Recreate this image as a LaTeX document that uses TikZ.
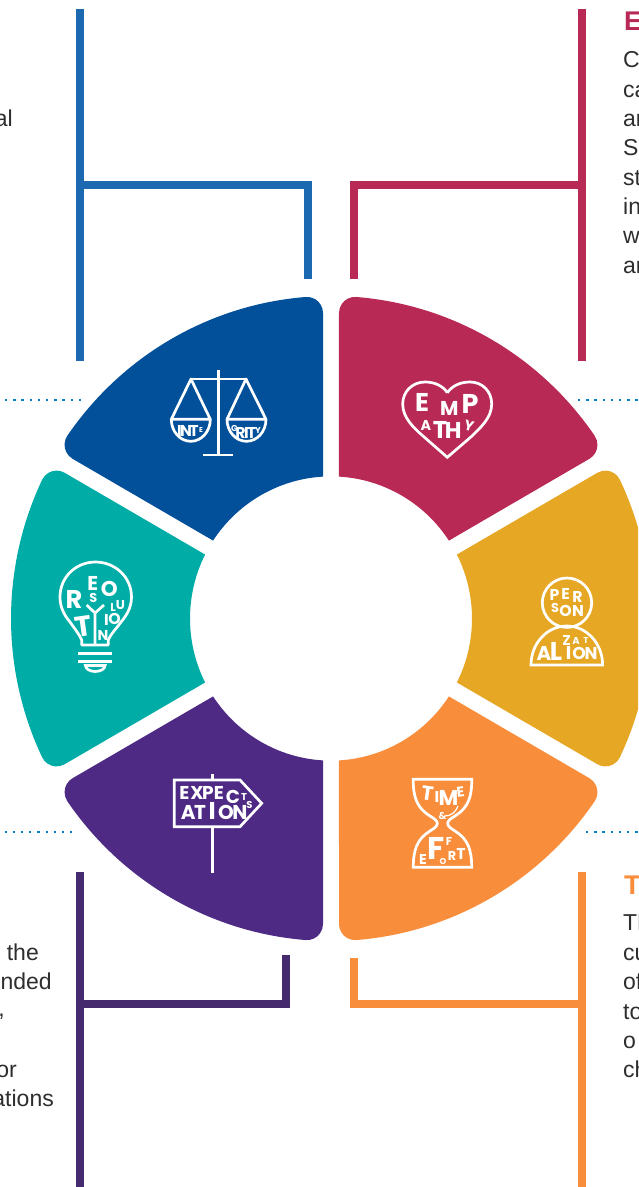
\documentclass[tikz,border=0pt]{standalone}
\usepackage{fontspec}
\setmainfont{Liberation Sans}
\newfontfamily\glyphfont{Poppins}
\definecolor{secBlue}{HTML}{03509A}
\definecolor{secRed}{HTML}{B92955}
\definecolor{secGold}{HTML}{E5A724}
\definecolor{secOrange}{HTML}{F88D3B}
\definecolor{secPurple}{HTML}{4E2A84}
\definecolor{secTeal}{HTML}{00ADA6}
\definecolor{conBlue}{HTML}{1C68B1}
\definecolor{conPurple}{HTML}{462A6E}
\definecolor{dotBlue}{HTML}{0B7DC5}
\definecolor{bodyText}{HTML}{2E2E2E}
\newcounter{glyphno}
\tikzset{
  connector/.style={line width=8pt,line cap=butt,line join=miter},
  dotline/.style={dotBlue,line width=2.3pt,dash pattern=on 2.3pt off 5.9pt},
  iconline/.style={white,line width=2.7pt,line join=miter},
  bodytxt/.style={inner sep=0pt,text=bodyText,font=\fontsize{23}{23}\selectfont},
  headtxt/.style={inner sep=0pt,font=\fontsize{27}{27}\selectfont\bfseries,anchor=base west},
  glyphstyle/.style={inner sep=0pt,text=white,anchor=center}
}
\newcommand\sectorshape[2]{%
  \fill[#2,shift={(331,618.5)},yscale=1.008,rotate=#1]
    (26.75:141) -- (28.488:303.156)
    arc[start angle=120,end angle=25.472,radius=16]
    arc[start angle=25.472,end angle=-25.472,radius=320]
    arc[start angle=-25.472,end angle=-120,radius=16]
    -- (-26.75:141)
    arc[start angle=-26.75,end angle=26.75,radius=141] -- cycle;}
\newcommand\glyph[5]{%
  \stepcounter{glyphno}%
  \pgfmathsetmacro\glyphsize{#3/0.7}%
  \node[glyphstyle,rotate=#4,font=\glyphfont\fontsize{\glyphsize}{\glyphsize}\selectfont\bfseries]
    (g\arabic{glyphno}) at (#1,#2) {#5};}
\begin{document}
\begin{tikzpicture}[x=1pt,y=-1pt]
\useasboundingbox (0,0) rectangle (638,1187);
\clip (0,0) rectangle (638,1187);
\fill[white] (0,0) rectangle (638,1187);

% ring
\sectorshape{120}{secBlue}
\sectorshape{60}{secRed}
\sectorshape{0}{secGold}
\sectorshape{-60}{secOrange}
\sectorshape{-120}{secPurple}
\sectorshape{180}{secTeal}

% connectors
\coordinate (blueTop) at (80,9);
\coordinate (blueBot) at (80,361);
\coordinate (blueJoin) at (80,185);
\coordinate (blueCorner) at (308,185);
\coordinate (blueEnd) at (308,279);
\draw[connector,conBlue] (blueTop) -- (blueBot);
\draw[connector,conBlue] (blueJoin) -- (blueCorner) -- (blueEnd);
\coordinate (redTop) at (582,9);
\coordinate (redBot) at (582,361);
\coordinate (redJoin) at (582,185);
\coordinate (redCorner) at (354,185);
\coordinate (redEnd) at (354,279);
\draw[connector,secRed] (redTop) -- (redBot);
\draw[connector,secRed] (redJoin) -- (redCorner) -- (redEnd);
\coordinate (purTop) at (80,872);
\coordinate (purBot) at (80,1187);
\coordinate (purJoin) at (80,1004);
\coordinate (purCorner) at (286,1004);
\coordinate (purEnd) at (286,955);
\draw[connector,conPurple] (purTop) -- (purBot);
\draw[connector,conPurple] (purJoin) -- (purCorner) -- (purEnd);
\coordinate (orTop) at (582,872);
\coordinate (orBot) at (582,1187);
\coordinate (orJoin) at (582,1004);
\coordinate (orCorner) at (354,1004);
\coordinate (orEnd) at (354,958);
\draw[connector,secOrange] (orTop) -- (orBot);
\draw[connector,secOrange] (orJoin) -- (orCorner) -- (orEnd);

% dotted rules
\coordinate (d1a) at (5,400); \coordinate (d1b) at (86,400);
\coordinate (d2a) at (578,400); \coordinate (d2b) at (638,400);
\coordinate (d3a) at (4.5,832); \coordinate (d3b) at (76,832);
\coordinate (d4a) at (586,832); \coordinate (d4b) at (638,832);
\draw[dotline] (d1a) -- (d1b);
\draw[dotline] (d2a) -- (d2b);
\draw[dotline] (d3a) -- (d3b);
\draw[dotline] (d4a) -- (d4b);

% cropped text
\node[bodytxt,anchor=base east] (tl1) at (13,126) {al};
\node[bodytxt,anchor=base east] (tl2) at (39,960) {the};
\node[bodytxt,anchor=base east] (tl3) at (52,989) {nded};
\node[bodytxt,anchor=base east] (tl4) at (5,1016) {,};
\node[bodytxt,anchor=base east] (tl5) at (17,1077) {or};
\node[bodytxt,anchor=base east] (tl6) at (54,1106) {ations};
\node[headtxt,text=secRed] (hr1) at (624,30) {E};
\node[bodytxt,anchor=base west] (tr1) at (623,67) {C};
\node[bodytxt,anchor=base west] (tr2) at (623,97) {ca};
\node[bodytxt,anchor=base west] (tr3) at (623,126) {ar};
\node[bodytxt,anchor=base west] (tr4) at (623,155) {S};
\node[bodytxt,anchor=base west] (tr5) at (623,185) {st};
\node[bodytxt,anchor=base west] (tr6) at (623,214) {in};
\node[bodytxt,anchor=base west] (tr7) at (623,243) {w};
\node[bodytxt,anchor=base west] (tr8) at (623,273) {ar};
\node[headtxt,text=secOrange] (hr2) at (624,894) {T};
\node[bodytxt,anchor=base west] (tb1) at (623,930) {Th};
\node[bodytxt,anchor=base west] (tb2) at (623,960) {cu};
\node[bodytxt,anchor=base west] (tb3) at (623,989) {of};
\node[bodytxt,anchor=base west] (tb4) at (623,1019) {to};
\node[bodytxt,anchor=base west] (tb5) at (623,1048) {o};
\node[bodytxt,anchor=base west] (tb6) at (623,1077) {ch};

% scales
\draw[iconline] (218.3,370) -- (218.3,455);
\draw[iconline] (203,455) -- (233,455);
\draw[iconline] (191,379) -- (246,379);
\draw[iconline,line join=round] (171.3,419.3) -- (191,379) -- (210.3,419.3) -- cycle;
\draw[iconline,line join=round] (227,419.3) -- (246,379) -- (266,419.3) -- cycle;
\draw[iconline] (171.3,419.3) arc[start angle=180,end angle=360,x radius=19.5,y radius=-22];
\draw[iconline] (227,419.3) arc[start angle=180,end angle=360,x radius=19.5,y radius=-22];
\glyph{179.5}{431}{11}{0}{I}
\glyph{186}{431}{11}{0}{N}
\glyph{194}{431}{11}{0}{T}
\glyph{201}{430}{5}{0}{E}
\glyph{234.5}{428}{6}{0}{G}
\glyph{240.5}{433}{11}{0}{R}
\glyph{246.5}{433}{11}{0}{I}
\glyph{251.5}{433}{11}{0}{T}
\glyph{258}{430}{6}{0}{Y}

% heart
\draw[iconline,line join=miter]
  (447.3,392.7) .. controls (452,386) and (460,382) .. (470,382)
  .. controls (483,382) and (491.7,392) .. (491.7,404)
  .. controls (491.7,418) and (480,428) .. (472,436)
  -- (447.3,457.3) -- (423,436)
  .. controls (414,428) and (402.7,418) .. (402.7,404)
  .. controls (402.7,392) and (412,382) .. (425,382)
  .. controls (435,382) and (443,386) .. (447.3,392.7);
\glyph{422}{402}{18}{0}{E}
\glyph{449.3}{408}{14}{0}{M}
\glyph{470}{404}{19}{0}{P}
\glyph{426}{425}{10}{0}{A}
\glyph{440}{430}{17}{0}{T}
\glyph{453.3}{430}{16}{0}{H}
\glyph{469}{426}{10}{-15}{Y}

% bulb
\draw[iconline,line join=round]
  (81.7,645) -- (81.7,640) .. controls (78,632) and (74,628) .. (70,622)
  .. controls (64,615) and (60,607) .. (60,597)
  .. controls (60,577) and (76,562) .. (95.5,562)
  .. controls (115,562) and (131.5,577) .. (131.5,597)
  .. controls (131.5,607) and (127,615) .. (121,622)
  .. controls (117,628) and (112,632) .. (108.3,640) -- (108.3,645) -- cycle;
\draw[iconline] (95,645) -- (95,613) -- (86.7,605);
\draw[iconline] (95,613) -- (104,605);
\draw[iconline] (78,653.3) -- (112,653.3);
\draw[iconline] (78,661.7) -- (112,661.7);
\draw[iconline] (85.5,665.5) -- (105,665.5) arc[start angle=0,end angle=180,x radius=9.75,y radius=6] -- cycle;
\glyph{74}{599}{18}{0}{R}
\glyph{92.7}{583}{14}{0}{E}
\glyph{109.3}{589}{15}{0}{O}
\glyph{93.3}{598}{9}{0}{S}
\glyph{83}{626}{20}{8}{T}
\glyph{113}{607}{8}{0}{L}
\glyph{120.5}{605}{9}{0}{U}
\glyph{106.5}{620}{11}{0}{I}
\glyph{114.5}{619}{11}{0}{O}
\glyph{103}{635}{10}{0}{N}

% person
\draw[iconline] (567,602.7) circle[radius=24.7];
\draw[iconline] (531,665) arc[start angle=180,end angle=0,x radius=35.8,y radius=-39] -- cycle;
\glyph{554.5}{595}{11}{0}{P}
\glyph{565.5}{594}{11}{0}{E}
\glyph{577.5}{596.7}{11}{0}{R}
\glyph{555}{608}{9}{0}{S}
\glyph{565.5}{611}{11}{0}{O}
\glyph{578}{611}{11}{0}{N}
\glyph{544}{653}{14}{0}{A}
\glyph{556}{651.7}{18}{0}{L}
\glyph{568.5}{653}{13}{0}{I}
\glyph{566.7}{640}{10}{0}{Z}
\glyph{576}{640.5}{7}{0}{A}
\glyph{586}{640.7}{6}{0}{T}
\glyph{579}{653.3}{12}{0}{O}
\glyph{591}{653}{12}{0}{N}

% sign
\draw[iconline] (212.7,774) -- (212.7,780);
\draw[iconline] (212.7,826.7) -- (212.7,873.3);
\draw[iconline] (174.3,780) -- (240,780) -- (261.7,803.3) -- (240,826.7) -- (174.3,826.7) -- cycle;
\glyph{184.3}{793.3}{13}{0}{E}
\glyph{197}{793.3}{13}{0}{X}
\glyph{208}{793.3}{13}{0}{P}
\glyph{219}{793.3}{13}{0}{E}
\glyph{233}{797}{13}{0}{C}
\glyph{244}{797}{7}{0}{T}
\glyph{249.5}{805}{7}{0}{S}
\glyph{188.3}{812.7}{14}{0}{A}
\glyph{200}{812.7}{14}{0}{T}
\glyph{212.3}{811}{17}{0}{I}
\glyph{226}{812.7}{14}{0}{O}
\glyph{240}{812.7}{14}{0}{N}

% hourglass
\draw[iconline]
  (413.3,779.3) -- (471.7,779.3)
  .. controls (472,797) and (468,808) .. (455,816)
  .. controls (450,819) and (447.7,821) .. (447.7,823.3)
  .. controls (447.7,826) and (450,828) .. (455,831)
  .. controls (468,839) and (471.7,850) .. (471.7,867.3)
  -- (413.3,867.3)
  .. controls (413.3,850) and (417,839) .. (430,831)
  .. controls (435,828) and (437.3,826) .. (437.3,823.3)
  .. controls (437.3,821) and (435,819) .. (430,816)
  .. controls (417,808) and (413,797) .. (413.3,779.3) -- cycle;
\draw[white,line width=1.2pt] (445,816) .. controls (451,816) and (456,812) .. (458,806);
\glyph{427.5}{793}{14}{-8}{T}
\glyph{437}{797}{11}{0}{I}
\glyph{448.5}{798}{15}{0}{M}
\glyph{460.5}{792}{10}{8}{E}
\glyph{442.7}{815.7}{7}{0}{\&}
\glyph{423}{859}{10}{0}{E}
\glyph{436}{848}{22}{0}{F}
\glyph{449}{841.7}{8}{0}{F}
\glyph{443}{861.5}{6}{0}{O}
\glyph{452}{856}{9}{0}{R}
\glyph{461}{854}{11}{0}{T}
\end{tikzpicture}
\end{document}
